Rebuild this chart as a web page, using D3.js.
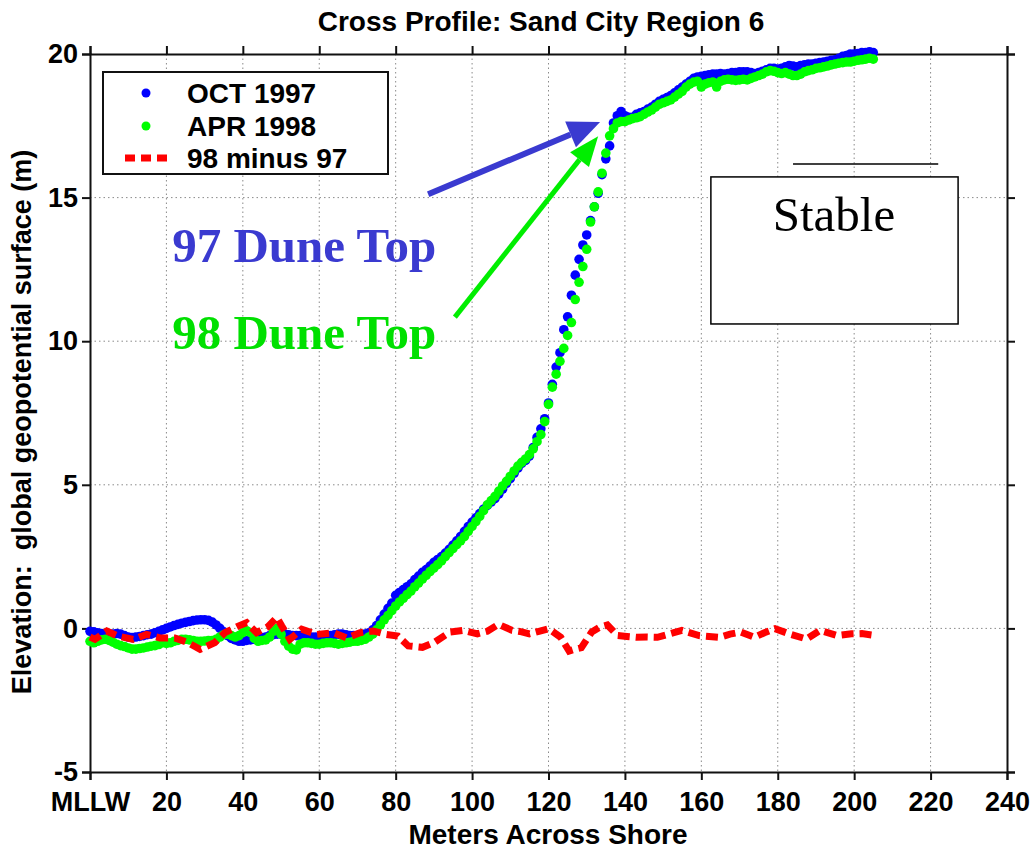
<!DOCTYPE html>
<html>
<head>
<meta charset="utf-8">
<script src="https://cdn.jsdelivr.net/npm/d3@7"></script>
<style>
  body { margin: 0; background: #fff; }
  svg { display: block; }
  .tick text { font-family: "Liberation Sans", Arial, sans-serif; font-weight: bold; }
</style>
</head>
<body>
<svg id="chart" width="1033" height="850"></svg>
<script>
// elevation (m) sampled every 1 m across shore, starting at MLLW (0 m)
const oct1997 = [
  -0.10,-0.12,-0.15,-0.18,-0.20,-0.22,-0.20,-0.18,-0.20,-0.25,
  -0.30,-0.32,-0.30,-0.28,-0.25,-0.22,-0.20,-0.15,-0.10,-0.05,
   0.00, 0.05, 0.10, 0.14, 0.18, 0.21, 0.24, 0.27, 0.29, 0.30,
   0.30, 0.28, 0.22, 0.12, 0.00,-0.12,-0.25,-0.35,-0.40,-0.45,
  -0.45,-0.42,-0.40,-0.38,-0.35,-0.32,-0.30,-0.25,-0.22,-0.20,
  -0.20,-0.20,-0.22,-0.25,-0.25,-0.25,-0.28,-0.30,-0.30,-0.30,
  -0.30,-0.28,-0.25,-0.25,-0.22,-0.20,-0.20,-0.22,-0.25,-0.25,
  -0.25,-0.22,-0.20,-0.15,-0.05, 0.10, 0.30, 0.50, 0.70, 0.88,
   1.15, 1.25, 1.35, 1.45, 1.55, 1.70, 1.82, 1.95, 2.05, 2.17,
   2.30, 2.40, 2.50, 2.62, 2.75, 2.90, 3.05, 3.20, 3.38, 3.55,
   3.70, 3.85, 4.00, 4.15, 4.28, 4.40, 4.52, 4.68, 4.85, 5.05,
   5.22, 5.40, 5.58, 5.75, 5.85, 6.00, 6.30, 6.65, 6.95, 7.30,
   7.85, 8.50, 9.10, 9.60,10.40,10.85,11.60,12.30,12.85,13.35,
  13.70,14.20,14.68,15.15,15.80,16.35,16.80,17.60,17.85,18.00,
  17.85,17.80,17.80,17.90,17.95,18.00,18.08,18.15,18.25,18.35,
  18.42,18.48,18.55,18.65,18.75,18.85,18.95,19.05,19.15,19.20,
  19.22,19.25,19.28,19.30,19.30,19.32,19.30,19.32,19.35,19.35,
  19.38,19.38,19.38,19.35,19.32,19.35,19.40,19.45,19.50,19.50,
  19.48,19.50,19.55,19.60,19.58,19.55,19.60,19.62,19.65,19.65,
  19.68,19.70,19.72,19.75,19.78,19.80,19.85,19.92,19.95,20.00,
  20.00,20.02,20.05,20.05,20.08,20.05
];
const apr1998 = [
  -0.45,-0.50,-0.45,-0.40,-0.38,-0.42,-0.48,-0.55,-0.60,-0.63,
  -0.68,-0.72,-0.72,-0.70,-0.68,-0.65,-0.62,-0.60,-0.56,-0.50,
  -0.52,-0.50,-0.45,-0.42,-0.38,-0.38,-0.40,-0.42,-0.45,-0.45,
  -0.44,-0.42,-0.42,-0.38,-0.30,-0.22,-0.20,-0.25,-0.30,-0.25,
  -0.15,-0.08,-0.15,-0.35,-0.45,-0.42,-0.40,-0.30,-0.10, 0.00,
  -0.20,-0.45,-0.62,-0.72,-0.75,-0.55,-0.50,-0.50,-0.52,-0.55,
  -0.55,-0.52,-0.50,-0.50,-0.52,-0.55,-0.52,-0.50,-0.48,-0.45,
  -0.45,-0.42,-0.38,-0.30,-0.20,-0.05, 0.12, 0.30, 0.45, 0.62,
   0.78, 0.92, 1.05, 1.18, 1.30, 1.45, 1.58, 1.72, 1.85, 1.98,
   2.10, 2.22, 2.35, 2.50, 2.64, 2.78, 2.92, 3.05, 3.20, 3.38,
   3.55, 3.72, 3.90, 4.10, 4.30, 4.45, 4.60, 4.78, 4.96, 5.12,
   5.30, 5.48, 5.65, 5.78, 5.90, 6.05, 6.25, 6.50, 6.75, 7.20,
   7.80, 8.40, 8.85, 9.30, 9.75,10.20,10.65,11.45,12.05,12.60,
  13.20,14.15,14.68,15.20,15.85,16.55,17.15,17.40,17.60,17.65,
  17.65,17.70,17.75,17.78,17.82,17.90,17.98,18.05,18.15,18.25,
  18.30,18.35,18.40,18.50,18.60,18.70,18.85,18.95,19.02,19.05,
  18.85,18.95,19.00,19.02,18.85,19.05,19.10,19.12,19.10,19.08,
  19.10,19.12,19.10,19.15,19.20,19.25,19.30,19.38,19.42,19.40,
  19.35,19.32,19.35,19.30,19.25,19.25,19.30,19.38,19.42,19.45,
  19.50,19.52,19.55,19.58,19.62,19.65,19.68,19.70,19.72,19.72,
  19.75,19.78,19.80,19.82,19.85,19.82
];
// 98 minus 97 difference curve
const diffX = [0,1.3,4.4,7.3,11.3,14.8,18.3,22.2,25.6,28.8,32.7,35.3,38.8,41,43.6,46.5,48.9,50.2,52.3,55.4,
  59.3,63.7,67.2,70.7,74.1,77.6,80.6,83.3,87,90.1,94.2,97.8,101.4,104,106.9,110.5,113,115,117.5,120,
  123.2,125.4,127,128.6,131.3,133.5,135.4,138.1,140.5,143.1,145.8,148.5,151.5,154.9,159.4,162,164.8,167.5,170.3,173.9,
  176.5,179.3,183,187.5,191.1,195.6,199.3,202,204.7];
const diffY = [-0.30,-0.38,-0.09,-0.27,-0.38,-0.21,-0.33,-0.33,-0.49,-0.73,-0.49,-0.15,0.08,0.20,-0.15,0.05,0.38,0.08,-0.38,-0.03,
  -0.21,-0.15,-0.33,-0.15,-0.09,-0.21,-0.27,-0.61,-0.66,-0.49,-0.13,-0.07,-0.19,-0.10,0.14,-0.07,-0.12,-0.19,-0.10,-0.01,
  -0.31,-0.79,-0.72,-0.67,-0.13,0.05,0.12,-0.25,-0.28,-0.31,-0.30,-0.31,-0.20,-0.07,-0.25,-0.28,-0.31,-0.20,-0.13,-0.31,
  -0.15,-0.01,-0.19,-0.37,-0.07,-0.25,-0.19,-0.18,-0.23];

const xTicks = [0,20,40,60,80,100,120,140,160,180,200,220,240];
const xTickLabels = ["MLLW","20","40","60","80","100","120","140","160","180","200","220","240"];
const yTicks = [-5,0,5,10,15,20];
const legendItems = ["OCT 1997","APR 1998","98 minus 97"];

const svg = d3.select("#chart");
const margin = {left: 90, right: 26, top: 54, bottom: 78};
const W = 1033, H = 850;
const x = d3.scaleLinear().domain([0,240]).range([margin.left, W - margin.right]);
const y = d3.scaleLinear().domain([-5,20]).range([H - margin.bottom, margin.top]);

// grid
const grid = svg.append("g").attr("stroke", "#8a8a8a").attr("stroke-width", 1).attr("stroke-dasharray", "1.5,3");
grid.selectAll(".gx").data(xTicks.slice(1,-1)).join("line")
  .attr("x1", d => x(d)).attr("x2", d => x(d)).attr("y1", y(20)).attr("y2", y(-5));
grid.selectAll(".gy").data(yTicks.slice(1,-1)).join("line")
  .attr("y1", d => y(d)).attr("y2", d => y(d)).attr("x1", x(0)).attr("x2", x(240));

// axes (MATLAB box, ticks outward)
const fmtX = (d, i) => xTickLabels[i];
svg.append("g").attr("transform", `translate(0,${y(-5)})`)
  .call(d3.axisBottom(x).tickValues(xTicks).tickFormat(fmtX).tickSizeOuter(0).tickSize(8).tickPadding(12))
  .call(g => g.selectAll("text").attr("font-size", 27));
svg.append("g").attr("transform", `translate(0,${y(20)})`)
  .call(d3.axisTop(x).tickValues(xTicks).tickFormat("").tickSizeOuter(0).tickSize(8));
svg.append("g").attr("transform", `translate(${x(0)},0)`)
  .call(d3.axisLeft(y).tickValues(yTicks).tickFormat(d => String(d)).tickSizeOuter(0).tickSize(8).tickPadding(4))
  .call(g => g.selectAll("text").attr("font-size", 27));
svg.append("g").attr("transform", `translate(${x(240)},0)`)
  .call(d3.axisRight(y).tickValues(yTicks).tickFormat("").tickSizeOuter(0).tickSize(8));
svg.selectAll(".domain, .tick line").attr("stroke", "#111").attr("stroke-width", 2);

// data
const pts = arr => arr.map((v, i) => [i, v]);
svg.append("g").selectAll("circle").data(pts(oct1997)).join("circle")
  .attr("cx", d => x(d[0])).attr("cy", d => y(d[1])).attr("r", 4.8).attr("fill", "#0000ff");
svg.append("g").selectAll("circle").data(pts(apr1998)).join("circle")
  .attr("cx", d => x(d[0])).attr("cy", d => y(d[1])).attr("r", 4.8).attr("fill", "#00ff00");
svg.append("path").datum(diffX.map((d, i) => [d, diffY[i]]))
  .attr("fill", "none").attr("stroke", "#ff0000").attr("stroke-width", 7)
  .attr("stroke-dasharray", "12,6")
  .attr("d", d3.line().x(d => x(d[0])).y(d => y(d[1])));

// annotations
function arrow(x0, y0, x1, y1, color, w, headL, headW) {
  const px0 = x(x0), py0 = y(y0), px1 = x(x1), py1 = y(y1);
  const a = Math.atan2(py1 - py0, px1 - px0);
  const bx = px1 - headL * Math.cos(a), by = py1 - headL * Math.sin(a);
  svg.append("line").attr("x1", px0).attr("y1", py0).attr("x2", bx).attr("y2", by)
    .attr("stroke", color).attr("stroke-width", w);
  const nx = -Math.sin(a) * headW / 2, ny = Math.cos(a) * headW / 2;
  svg.append("polygon").attr("fill", color)
    .attr("points", `${px1},${py1} ${bx + nx},${by + ny} ${bx - nx},${by - ny}`);
}
arrow(88.5, 15.12, 133.5, 17.63, "#3a3ad0", 6, 32, 28);
arrow(95.5, 10.84, 133, 17.14, "#00ee00", 5, 30, 24);

svg.append("text").attr("x", x(21.5)).attr("y", y(12.75)).text("97 Dune Top")
  .attr("font-family", "Liberation Serif, Times New Roman, serif").attr("font-weight", "bold")
  .attr("font-size", 49).attr("fill", "#3a3ad0");
svg.append("text").attr("x", x(21.5)).attr("y", y(9.72)).text("98 Dune Top")
  .attr("font-family", "Liberation Serif, Times New Roman, serif").attr("font-weight", "bold")
  .attr("font-size", 49).attr("fill", "#00e000");

svg.append("line").attr("x1", x(184)).attr("x2", x(222)).attr("y1", y(16.17)).attr("y2", y(16.17))
  .attr("stroke", "#000").attr("stroke-width", 1.5);
svg.append("rect").attr("x", x(162.5)).attr("y", y(15.72))
  .attr("width", x(227.2) - x(162.5)).attr("height", y(10.6) - y(15.72))
  .attr("fill", "#fff").attr("stroke", "#000").attr("stroke-width", 1.5);
svg.append("text").attr("x", x(194.7)).attr("y", y(13.84)).attr("text-anchor", "middle").text("Stable")
  .attr("font-family", "Liberation Serif, Times New Roman, serif").attr("font-size", 49);

// legend
const lg = svg.append("g").attr("transform", "translate(103,72)");
lg.append("rect").attr("width", 285).attr("height", 102).attr("fill", "#fff")
  .attr("stroke", "#111").attr("stroke-width", 2);
const lgY = [21, 54, 86];
lg.append("circle").attr("cx", 43).attr("cy", lgY[0]).attr("r", 4.5).attr("fill", "#0000ff");
lg.append("circle").attr("cx", 43).attr("cy", lgY[1]).attr("r", 4.5).attr("fill", "#00ff00");
lg.append("line").attr("x1", 22).attr("x2", 68).attr("y1", lgY[2]).attr("y2", lgY[2])
  .attr("stroke", "#ff0000").attr("stroke-width", 7).attr("stroke-dasharray", "10,6");
lg.selectAll("text").data(legendItems).join("text")
  .attr("x", 84).attr("y", (d, i) => lgY[i] + 10).text(d => d)
  .attr("font-family", "Liberation Sans, Arial, sans-serif").attr("font-weight", "bold").attr("font-size", 28);

// titles
svg.append("text").attr("x", 541).attr("y", 31).attr("text-anchor", "middle")
  .text("Cross Profile: Sand City Region 6")
  .attr("font-family", "Liberation Sans, Arial, sans-serif").attr("font-weight", "bold").attr("font-size", 28);
svg.append("text").attr("x", 548).attr("y", 844).attr("text-anchor", "middle")
  .text("Meters Across Shore")
  .attr("font-family", "Liberation Sans, Arial, sans-serif").attr("font-weight", "bold").attr("font-size", 28);
svg.append("text").attr("transform", `translate(31,422) rotate(-90)`)
  .attr("text-anchor", "middle").text("Elevation:  global geopotential surface (m)")
  .attr("xml:space", "preserve")
  .attr("font-family", "Liberation Sans, Arial, sans-serif").attr("font-weight", "bold").attr("font-size", 27);
</script>
</body>
</html>
